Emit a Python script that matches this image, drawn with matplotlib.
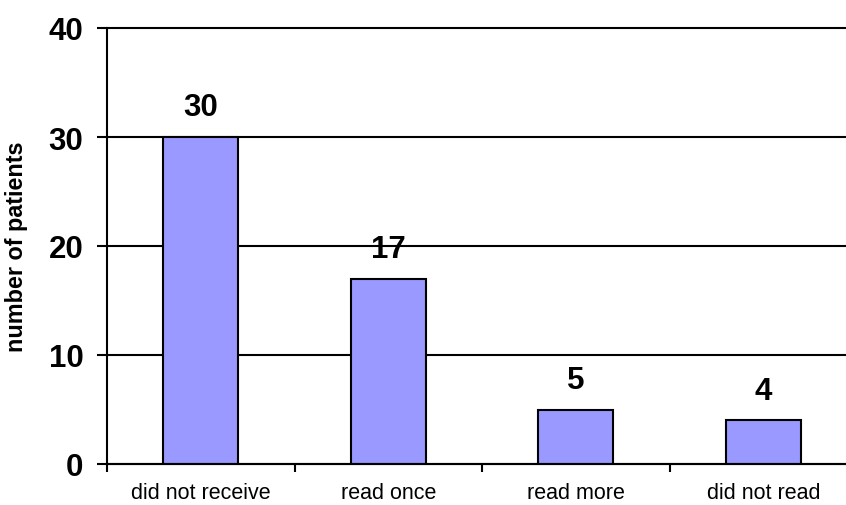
import matplotlib.pyplot as plt
import numpy as np

categories = ["did not receive", "read once", "read more", "did not read"]
patients = [30, 17, 5, 4]
y_ticks = [0, 10, 20, 30, 40]

plt.rcParams["font.family"] = ["Liberation Sans", "DejaVu Sans"]

fig = plt.figure(figsize=(8.46, 5.06), dpi=100)
# plot area runs off the right edge of the figure
ax = fig.add_axes([107 / 846, 41 / 506, 750 / 846, 436 / 506])

x = np.arange(len(categories))
bars = ax.bar(x, patients, width=0.4, color="#9999ff", edgecolor="black",
              linewidth=1.5, zorder=3)

for xi, v in zip(x, patients):
    ax.annotate(str(v), (xi, v), xytext=(0, 15.5), textcoords="offset points",
                ha="center", va="baseline", fontsize=22.5, fontweight="bold",
                zorder=4)

ax.set_xlim(-0.5, len(categories) - 0.5)
ax.set_ylim(0, 40)

ax.set_yticks(y_ticks)
ax.set_yticklabels([str(t) for t in y_ticks], fontsize=22.5, fontweight="bold")
ax.tick_params(axis="y", direction="out", length=7, width=1.5, pad=10)

# labels at the bar centres, tick marks on the category boundaries
ax.set_xticks(x)
ax.set_xticklabels(categories, fontsize=15.5)
ax.tick_params(axis="x", which="major", length=0, pad=13)
ax.set_xticks(np.arange(-0.5, len(categories), 1.0), minor=True)
ax.tick_params(axis="x", which="minor", direction="out", length=6, width=1.5)

ax.yaxis.grid(True, color="black", linewidth=1.5, zorder=1)
ax.set_axisbelow(True)
for gl in ax.get_ygridlines():
    gl.set_clip_on(False)

for side in ["top", "right"]:
    ax.spines[side].set_visible(False)
for side in ["left", "bottom"]:
    ax.spines[side].set_linewidth(1.5)
    ax.spines[side].set_zorder(5)

ax.set_ylabel("number of patients", fontsize=16.8, fontweight="bold")
ax.yaxis.set_label_coords(-79 / 750, 0.5)

fig.savefig("out.png", dpi=100)
